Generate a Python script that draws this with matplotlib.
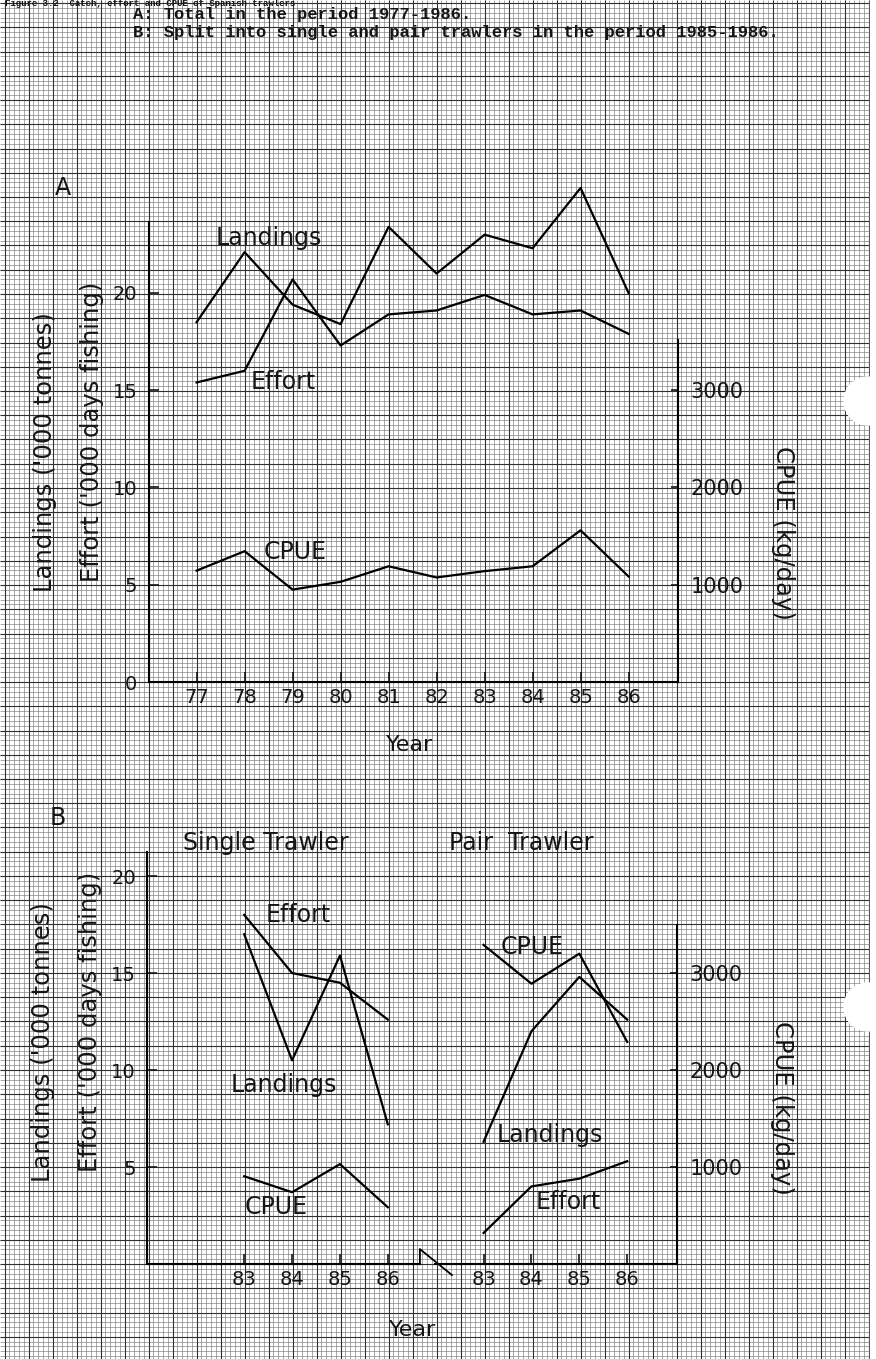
import numpy as np
import matplotlib
matplotlib.use('Agg')
import matplotlib.pyplot as plt
from matplotlib.patches import Circle, Rectangle

# ---- data ----
years_a = [77, 78, 79, 80, 81, 82, 83, 84, 85, 86]
landings_a = [18.5, 22.1, 19.4, 18.4, 23.4, 21.0, 23.0, 22.3, 25.4, 20.0]
effort_a = [15.4, 16.0, 20.7, 17.3, 18.9, 19.1, 19.9, 18.9, 19.1, 17.9]
cpue_a = [1145, 1345, 950, 1030, 1190, 1075, 1140, 1190, 1560, 1085]

year_labels_b = ['83', '84', '85', '86']
single_x = [0, 1, 2, 3]
pair_x = [5, 6, 7, 8]
single_landings = [17.0, 10.5, 15.9, 7.2]
single_effort = [18.0, 15.0, 14.5, 12.6]
single_cpue = [905, 740, 1030, 585]
pair_landings = [6.3, 12.0, 14.8, 12.6]
pair_effort = [1.6, 4.0, 4.4, 5.3]
pair_cpue = [3290, 2890, 3200, 2290]

W, H = 876, 1359
TXT = '#151515'
LW = 1.6

fig = plt.figure(figsize=(W / 100, H / 100), dpi=100)
fig.patch.set_facecolor('white')

# graph paper background, drawn in pixel units
bg = fig.add_axes([0, 0, 1, 1])
bg.set_xlim(0, W)
bg.set_ylim(H, 0)
bg.axis('off')
gx = np.arange(4.5, 872, 4.8)
gy = np.arange(3.0, H, 4.85)
bg.vlines(gx, 0, H, color='#7a7a7a', lw=0.45)
bg.hlines(gy, 0, 870, color='#7a7a7a', lw=0.45)
bg.vlines(gx[::5], 0, H, color='#303030', lw=0.8)
bg.hlines(gy[::5], 0, 870, color='#303030', lw=0.8)
bg.add_patch(Rectangle((870, 0), 10, H, color='white', zorder=3))
bg.add_patch(Circle((868, 401), 24, color='white', zorder=3))
bg.add_patch(Circle((868, 1007), 24, color='white', zorder=3))


def ftext(x, y, s, **kw):
    # place text using pixel coordinates of the page
    kw.setdefault('color', TXT)
    return fig.text(x / W, 1 - y / H, s, **kw)


def panel_axes(left, right, top, bottom):
    ax = fig.add_axes([left / W, 1 - bottom / H, (right - left) / W, (bottom - top) / H])
    ax.patch.set_alpha(0)
    return ax


def style_axes(ax, axr, right_top):
    for s in ['top', 'right']:
        ax.spines[s].set_visible(False)
    for s in ['top', 'left', 'bottom']:
        axr.spines[s].set_visible(False)
    ax.spines['left'].set_linewidth(1.5)
    ax.spines['bottom'].set_linewidth(1.5)
    axr.spines['right'].set_linewidth(1.5)
    axr.spines['right'].set_bounds(0, right_top)
    ax.tick_params(axis='y', direction='in', length=7, width=1.2, pad=8, labelsize=14, colors=TXT)
    ax.tick_params(axis='x', direction='in', length=7, width=1.2, pad=4, labelsize=14, colors=TXT)
    axr.tick_params(axis='y', direction='in', length=5, width=1.2, pad=9, labelsize=15, colors=TXT)
    axr.set_yticks([1000, 2000, 3000])


# header (typewritten)
mono = dict(family='Liberation Mono', fontweight='bold', va='center')
ftext(5, 4, 'Figure 3.2  Catch, effort and CPUE of Spanish trawlers', fontsize=6.5, **mono)
ftext(133, 15, 'A: Total in the period 1977-1986.', fontsize=12.3, **mono)
ftext(133, 33, 'B: Split into single and pair trawlers in the period 1985-1986.', fontsize=12.3, **mono)

# ---- panel A ----
ax = panel_axes(148.6, 678, 222, 682)
ax.set_xlim(76, 87.03)
ax.set_ylim(0, 23.65)
ax.plot(years_a, landings_a, color='k', lw=LW, clip_on=False)
ax.plot(years_a, effort_a, color='k', lw=LW, clip_on=False)
axr = ax.twinx()
axr.set_ylim(0, 23.65 * 200)
axr.plot(years_a, cpue_a, color='k', lw=LW, clip_on=False)
style_axes(ax, axr, 3520)
ax.set_xticks(years_a)
ax.set_yticks([0, 5, 10, 15, 20])

ftext(63, 188, 'A', fontsize=17, ha='center', va='center')
ftext(216, 238, 'Landings', fontsize=17, va='center')
ftext(251, 382, 'Effort', fontsize=17, va='center')
ftext(264, 552, 'CPUE', fontsize=17, va='center')
ftext(410, 745, 'Year', fontsize=16, ha='center', va='center')
ftext(45, 452, "Landings ('000 tonnes)", fontsize=17.5, rotation=90, ha='center', va='center')
ftext(92, 432, "Effort ('000 days fishing)", fontsize=17.5, rotation=90, ha='center', va='center')
ftext(783, 533, 'CPUE (kg/day)', fontsize=17.5, rotation=-90, ha='center', va='center')

# ---- panel B ----
xl, xr = -2.03, 9.04
bx = panel_axes(147, 677, 852, 1264)
bx.set_xlim(xl, xr)
bx.set_ylim(0, 21.24)
bx.plot(single_x, single_landings, color='k', lw=LW, clip_on=False)
bx.plot(single_x, single_effort, color='k', lw=LW, clip_on=False)
bx.plot(pair_x, pair_landings, color='k', lw=LW, clip_on=False)
bx.plot(pair_x, pair_effort, color='k', lw=LW, clip_on=False)
bxr = bx.twinx()
bxr.set_ylim(0, 21.24 * 200)
bxr.plot(single_x, single_cpue, color='k', lw=LW, clip_on=False)
bxr.plot(pair_x, pair_cpue, color='k', lw=LW, clip_on=False)
style_axes(bx, bxr, 3500)
bx.spines['bottom'].set_visible(False)
# broken x axis between the two groups
bx.plot([xl, 3.67], [0, 0], color='k', lw=1.5, clip_on=False)
bx.plot([3.67, 3.67, 4.34], [0, 0.77, -0.57], color='k', lw=1.3, clip_on=False)
bx.plot([3.99, xr], [0, 0], color='k', lw=1.5, clip_on=False)
bx.set_xticks(single_x + pair_x)
bx.set_xticklabels(year_labels_b + year_labels_b)
bx.set_yticks([5, 10, 15, 20])

ftext(58, 818, 'B', fontsize=17, ha='center', va='center')
ftext(266, 843, 'Single Trawler', fontsize=17, ha='center', va='center')
ftext(521, 843, 'Pair  Trawler', fontsize=17, ha='center', va='center')
ftext(266, 915, 'Effort', fontsize=17, va='center')
ftext(231, 1085, 'Landings', fontsize=17, va='center')
ftext(245, 1207, 'CPUE', fontsize=17, va='center')
ftext(501, 947, 'CPUE', fontsize=17, va='center')
ftext(497, 1135, 'Landings', fontsize=17, va='center')
ftext(536, 1202, 'Effort', fontsize=17, va='center')
ftext(413, 1330, 'Year', fontsize=16, ha='center', va='center')
ftext(43, 1042, "Landings ('000 tonnes)", fontsize=17.5, rotation=90, ha='center', va='center')
ftext(90, 1022, "Effort ('000 days fishing)", fontsize=17.5, rotation=90, ha='center', va='center')
ftext(782, 1108, 'CPUE (kg/day)', fontsize=17.5, rotation=-90, ha='center', va='center')

fig.savefig('out.png', dpi=100)
